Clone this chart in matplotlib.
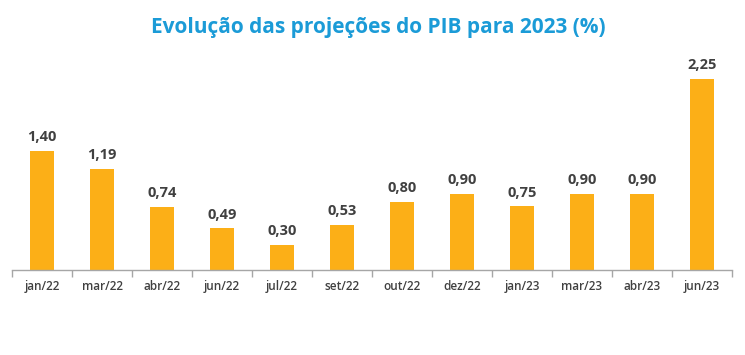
import matplotlib
matplotlib.use("Agg")
import matplotlib.pyplot as plt
import numpy as np

categories = ["jan/22", "mar/22", "abr/22", "jun/22", "jul/22", "set/22",
              "out/22", "dez/22", "jan/23", "mar/23", "abr/23", "jun/23"]
values = [1.40, 1.19, 0.74, 0.49, 0.30, 0.53, 0.80, 0.90, 0.75, 0.90, 0.90, 2.25]
title = "Evolução das projeções do PIB para 2023 (%)"

fig = plt.figure(figsize=(7.45, 3.55), dpi=100)
ax = fig.add_axes([12/745, 85/355, 720/745, 212.3/355])

x = np.arange(len(categories))
bar_color = "#FCAF17"
ax.bar(x, values, width=0.4, color=bar_color)
for xi, v in zip(x, values):
    ax.text(xi, v + 0.08, f"{v:.2f}".replace(".", ","), ha="center", va="bottom",
            fontsize=10.5, fontweight="bold", color="#404040", family="Open Sans")

ax.set_xlim(-0.5, len(categories) - 0.5)
ax.set_ylim(0, 2.5)
ax.set_yticks([])
for s in ["top", "right", "left"]:
    ax.spines[s].set_visible(False)
ax.spines["bottom"].set_color("#A6A6A6")
ax.spines["bottom"].set_linewidth(1.0)

ax.set_xticks(x)
ax.set_xticklabels(categories, fontsize=8.5, color="#404040", family="Open Sans", fontweight="semibold")
ax.tick_params(axis="x", length=0, pad=7)
ax.set_xticks(np.arange(-0.5, len(categories), 1.0), minor=True)
ax.tick_params(axis="x", which="minor", length=5, color="#A6A6A6", width=1.0)

fig.text(378/745, 1 - 27/355, title, ha="center", va="center", fontsize=15,
         fontweight="bold", color="#1B9BD7", family="Open Sans")

fig.savefig("out.png", dpi=100, facecolor="white")
